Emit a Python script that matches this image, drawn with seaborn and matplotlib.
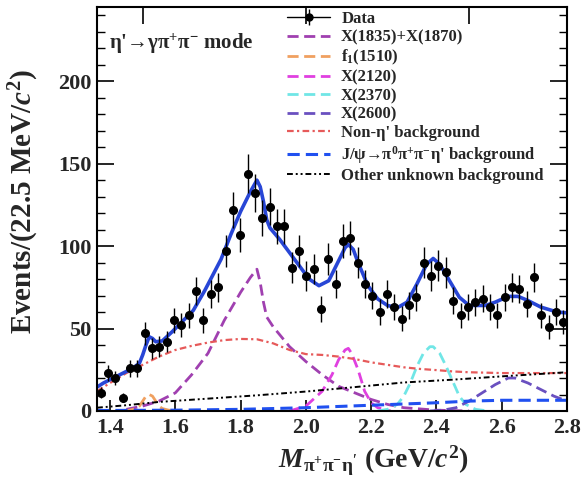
import numpy as np
import matplotlib
matplotlib.use('Agg')
import matplotlib.pyplot as plt
from matplotlib.lines import Line2D
from matplotlib.ticker import MultipleLocator
import seaborn as sns

# ------------------------
# Data
# ------------------------
bin_lo = 1.36
bin_width = 0.0225  # 22.5 MeV bins
counts = [11, 23, 20, 8, 26, 26, 47, 38, 39, 42, 55, 52, 58, 73, 55, 71,
          75, 97, 122, 107, 144, 132, 117, 124, 112, 112, 87, 97, 82, 86, 62, 92,
          77, 103, 105, 90, 77, 70, 60, 71, 63, 56, 64, 69, 90, 82, 88, 84,
          67, 58, 63, 66, 68, 63, 58, 69, 75, 74, 65, 81, 58, 51, 60, 54]

# total fit
fit_x = [1.36, 1.38, 1.41, 1.44, 1.47, 1.49, 1.50, 1.51, 1.52, 1.53, 1.54, 1.56,
         1.59, 1.62, 1.655, 1.69, 1.74, 1.77, 1.80, 1.83, 1.85, 1.86, 1.87, 1.88,
         1.89, 1.92, 1.95, 1.98, 2.01, 2.04, 2.07, 2.10, 2.12, 2.13, 2.145, 2.16,
         2.19, 2.22, 2.25, 2.28, 2.31, 2.34, 2.37, 2.39, 2.41, 2.44, 2.47, 2.50,
         2.55, 2.58, 2.62, 2.65, 2.68, 2.72, 2.77, 2.80]
fit_y = [14.5, 17, 20, 23, 26, 29, 34, 40, 45, 44, 42, 42.5,
         48, 54, 61, 73, 92, 107, 121, 133, 140, 136, 127, 116,
         111, 104, 96, 88, 80, 76, 79, 91, 99, 101, 98, 90,
         76, 68, 64, 62.6, 66, 77, 89, 92.5, 89, 79, 69, 64,
         64, 66, 69.5, 69.5, 67, 63, 60, 59.5]

x1835_x = [1.45, 1.50, 1.55, 1.60, 1.65, 1.70, 1.75, 1.80, 1.83, 1.85, 1.86, 1.87,
           1.88, 1.90, 1.95, 2.00, 2.05, 2.10, 2.15, 2.20, 2.25, 2.30, 2.40, 2.50]
x1835_y = [1, 3, 6, 11, 22, 35, 55, 72, 81, 86, 78, 66,
           57, 51, 39, 30, 22, 15, 11, 7, 4, 2, 0.5, 0]

f1510_x = [1.44, 1.46, 1.48, 1.49, 1.50, 1.51, 1.52, 1.53, 1.54, 1.55, 1.56, 1.58, 1.60]
f1510_y = [0.2, 0.5, 1.5, 3, 6, 9, 10, 9, 6, 3, 1.5, 0.5, 0.2]

x2120_x = [1.95, 2.00, 2.05, 2.08, 2.10, 2.12, 2.13, 2.14, 2.16, 2.18, 2.20, 2.22, 2.26]
x2120_y = [0, 3, 12, 22, 31, 37, 38, 35, 25, 12, 5, 2, 0]

x2370_x = [2.22, 2.25, 2.28, 2.30, 2.32, 2.34, 2.36, 2.38, 2.39, 2.41, 2.43, 2.45,
           2.47, 2.49, 2.52, 2.56]
x2370_y = [0, 1, 4, 9, 17, 27, 35, 39, 39, 35, 27, 18, 9, 4, 1, 0]

x2600_x = [2.38, 2.42, 2.46, 2.50, 2.54, 2.58, 2.62, 2.64, 2.68, 2.72, 2.76, 2.80]
x2600_y = [0, 0.5, 2, 6, 11, 16, 20, 20, 17, 13, 9, 6]

noneta_x = [1.36, 1.40, 1.45, 1.50, 1.55, 1.60, 1.65, 1.70, 1.75, 1.80, 1.85, 1.90,
            1.95, 2.00, 2.05, 2.10, 2.15, 2.20, 2.25, 2.30, 2.35, 2.40, 2.45, 2.50,
            2.60, 2.70, 2.80]
noneta_y = [12, 17, 23, 28, 33, 37, 39.5, 41.5, 43, 43.7, 43.5, 41,
            37, 34.5, 34, 33, 31.5, 29.5, 28, 26.5, 25.5, 24.8, 24, 23.5,
            23, 23, 23]

jpsi_x = [1.36, 1.60, 1.80, 2.00, 2.20, 2.40, 2.50, 2.60, 2.80]
jpsi_y = [0.3, 0.5, 1, 2, 3.5, 5, 6, 6.5, 6.5]

other_x = [1.36, 1.45, 1.55, 1.70, 1.85, 2.00, 2.15, 2.30, 2.45, 2.60, 2.80]
other_y = [2, 3.5, 5.5, 7.5, 9.5, 11.8, 14.5, 17.3, 19, 21, 23.5]

x_ticks = [1.4, 1.6, 1.8, 2.0, 2.2, 2.4, 2.6, 2.8]
y_ticks = [0, 50, 100, 150, 200]

# ------------------------
# Style
# ------------------------
sns.set_theme(style="ticks")
plt.rcParams['font.family'] = ['Liberation Serif', 'DejaVu Serif']
plt.rcParams['font.weight'] = 'bold'
plt.rcParams['mathtext.fontset'] = 'custom'
plt.rcParams['mathtext.rm'] = 'Liberation Serif:bold'
plt.rcParams['mathtext.bf'] = 'Liberation Serif:bold'
plt.rcParams['mathtext.it'] = 'Liberation Serif:italic:bold'
plt.rcParams['mathtext.default'] = 'rm'

fig = plt.figure(figsize=(5.85, 4.91), dpi=100)
ax = fig.add_axes([97 / 585, 80 / 491, 470 / 585, 404 / 491])

# components
comps = [
    (x1835_x, x1835_y, "#a040b0", (0, (4, 2)), 2.0, "X(1835)+X(1870)"),
    (f1510_x, f1510_y, "#f0a060", (0, (4, 2)), 2.0, r"f$_1$(1510)"),
    (x2120_x, x2120_y, "#e040e0", (0, (4, 2)), 2.0, "X(2120)"),
    (x2370_x, x2370_y, "#70e6e6", (0, (4, 2)), 2.0, "X(2370)"),
    (x2600_x, x2600_y, "#6a50c0", (0, (4, 2)), 2.0, "X(2600)"),
    (noneta_x, noneta_y, "#e65a5a", (0, (3, 1.5, 1, 1.5)), 1.6, "Non-η' background"),
    (jpsi_x, jpsi_y, "#2050f0", (0, (4, 2)), 2.2,
     "J/ψ→π$^{0}$π$^{+}$π$^{-}$η' background"),
    (other_x, other_y, "black", (0, (3, 1.5, 1, 1.5, 1, 1.5)), 1.4, "Other unknown background"),
]

handles, labels = [], []
for xs, ys, col, ls, lw, lab in comps:
    sns.lineplot(x=xs, y=ys, ax=ax, color=col, linestyle=ls, lw=lw, legend=False, zorder=2)
    handles.append(Line2D([], [], color=col, linestyle=ls, lw=lw))
    labels.append(lab)

# total fit
sns.lineplot(x=fit_x, y=fit_y, ax=ax, color="#2846d6", lw=2.6, legend=False, zorder=2.5)

# data with poisson errors
centers = bin_lo + bin_width * (np.arange(len(counts)) + 0.5)
counts = np.array(counts, dtype=float)
ax.errorbar(centers, counts, yerr=np.sqrt(counts), fmt='o', color='black',
            ms=5.5, elinewidth=1.0, capsize=0, zorder=3)

data_handle = (Line2D([], [], color='black', lw=1.0, marker='o', ms=5),
               Line2D([], [], color='black', ls='none', marker='|', ms=11, mew=1.0))
handles.insert(0, data_handle)
labels.insert(0, "Data")

ax.legend(handles, labels, loc='upper left', bbox_to_anchor=(0.40, 0.995),
          frameon=False, fontsize=12, labelspacing=0.15, handlelength=2.6,
          handletextpad=0.65, borderpad=0.12, borderaxespad=0.0)

ax.text(0.025, 0.91, "η'→γπ$^{+}$π$^{-}$ mode", va='center',
        transform=ax.transAxes, fontsize=15, fontweight='bold')

ax.set_xlim(1.36, 2.8)
ax.set_ylim(0, 245)
ax.set_xticks(x_ticks)
ax.set_xticklabels([f"{t:.1f}" for t in x_ticks])
ax.set_yticks(y_ticks)
ax.yaxis.set_minor_locator(MultipleLocator(10))
ax.tick_params(axis='both', which='major', direction='in', labelsize=16, width=1.2,
               color='black')
ax.tick_params(axis='y', which='major', length=12, left=True, right=True)
ax.tick_params(axis='y', which='minor', length=6, left=True, right=True, direction='in',
               width=1.0, color='black')
ax.tick_params(axis='x', which='major', length=8, pad=5)
ax.tick_params(axis='y', which='major', pad=4)
for t in ax.get_xticklabels() + ax.get_yticklabels():
    t.set_fontweight('bold')

top = ax.secondary_xaxis('top')
top.set_xticks([1.5, 2.0, 2.5])
top.tick_params(direction='in', length=12, width=1.2, labeltop=False, color='black')

for sp in ax.spines.values():
    sp.set_linewidth(1.5)
    sp.set_color('black')

ax.set_xlabel(r"$\mathit{M}_{\pi^{+}\pi^{-}\eta'}$ (GeV/$\mathit{c}^{2}$)", fontsize=20,
              fontweight='bold')
ax.xaxis.set_label_coords((373 - 97) / 470, -0.08)
ax.set_ylabel(r"Events/(22.5 MeV/$\mathit{c}^{2}$)", fontsize=21, fontweight='bold')
ax.yaxis.set_label_coords(-0.12, 0.52)

fig.savefig("out.png", dpi=100)
plt.close(fig)
